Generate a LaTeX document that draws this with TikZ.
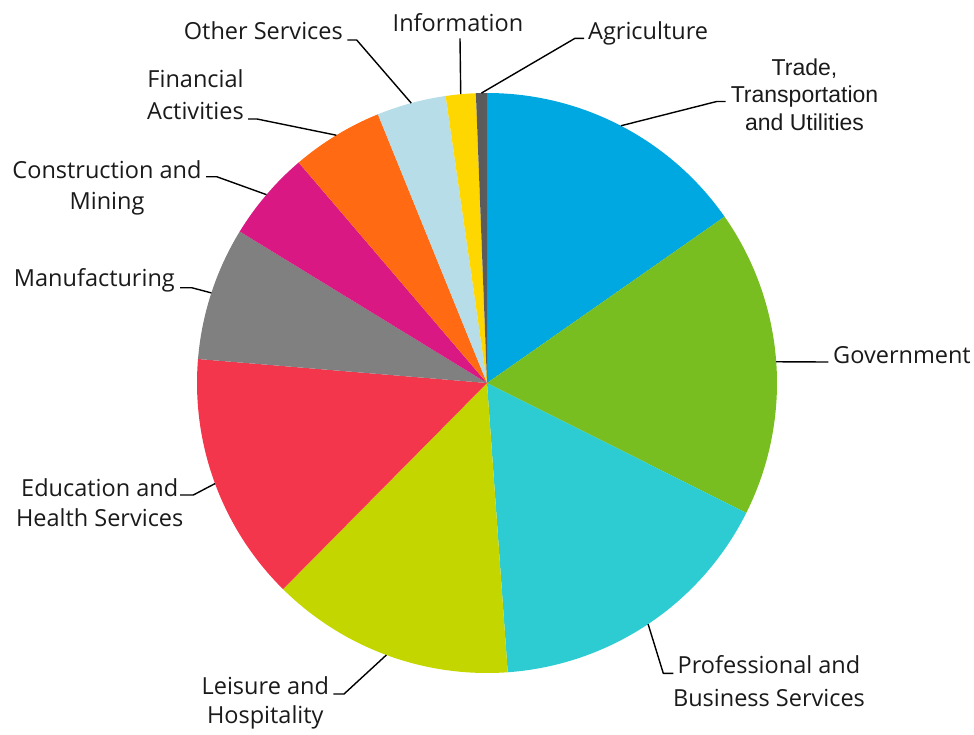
\documentclass[tikz,border=0pt]{standalone}
\usepackage{fontspec}
\setmainfont{Open Sans}
\newfontfamily\arialfont{Liberation Sans}
\definecolor{ctrade}{HTML}{00A8E1}
\definecolor{cgov}{HTML}{78BE20}
\definecolor{cprof}{HTML}{2DCCD3}
\definecolor{cleis}{HTML}{C4D600}
\definecolor{cedu}{HTML}{F4364C}
\definecolor{cman}{HTML}{808080}
\definecolor{ccon}{HTML}{DA1884}
\definecolor{cfin}{HTML}{FF6A13}
\definecolor{coth}{HTML}{B7DDE8}
\definecolor{cinf}{HTML}{FFD700}
\definecolor{cagr}{HTML}{5B5B5B}
\definecolor{txt}{HTML}{1A1A1A}
\begin{document}
\begin{tikzpicture}[x=1pt,y=-1pt,
  lead/.style={draw=black, line width=1.4pt, line join=round},
  lab/.style={font=\fontsize{23.5}{31}\selectfont, text=txt, inner sep=0pt, align=center}]
\useasboundingbox (0,0) rectangle (974,734);
\coordinate (c) at (487,383);
% slices (screen angles, clockwise)
\foreach \a/\b/\col in {-90/-35/ctrade, -35/26.6/cgov, 26.6/85.9/cprof, 85.9/134.7/cleis,
  134.7/184.75/cedu, 184.75/211.5/cman, 211.5/229.5/ccon, 229.5/247.9/cfin,
  247.9/261.8/coth, 261.8/267.8/cinf, 267.8/270/cagr}
  \fill[\col] (c) -- ++(\a:290) arc[start angle=\a, end angle=\b, radius=290] -- cycle;
% leader start points at slice mid-angles
\path (c) ++(-62.5:290) coordinate (tradeP);
\path (c) ++(-4.2:290) coordinate (govP);
\path (c) ++(56.25:290) coordinate (profP);
\path (c) ++(110.3:290) coordinate (leisP);
\path (c) ++(159.7:290) coordinate (eduP);
\path (c) ++(198.1:290) coordinate (manP);
\path (c) ++(220.5:290) coordinate (conP);
\path (c) ++(238.7:290) coordinate (finP);
\path (c) ++(254.85:290) coordinate (othP);
\path (c) ++(264.8:290) coordinate (infP);
\path (c) ++(268.9:290) coordinate (agrP);
% knees and ends
\coordinate (tradeK) at (716.7,101.5); \coordinate (tradeE) at (725.5,101.5);
\coordinate (govE) at (828.3,362);
\coordinate (profK) at (663.3,673.3); \coordinate (profE) at (673.3,673.3);
\coordinate (leisK) at (344,694); \coordinate (leisE) at (333.3,694);
\coordinate (eduK) at (193.3,495); \coordinate (eduE) at (180,495);
\coordinate (manK) at (191.7,287.7); \coordinate (manE) at (180,287.7);
\coordinate (conK) at (216.7,176.7); \coordinate (conE) at (206,176.7);
\coordinate (finK) at (257,119); \coordinate (finE) at (248,119);
\coordinate (othK) at (356.7,40); \coordinate (othE) at (347.3,40);
\coordinate (infE) at (460,38.3);
\coordinate (agrK) at (575,38.3); \coordinate (agrE) at (584,38.3);
% leaders
\draw[lead] (tradeP) -- (tradeK) -- (tradeE);
\draw[lead] (govP) -- (govE);
\draw[lead] (profP) -- (profK) -- (profE);
\draw[lead] (leisP) -- (leisK) -- (leisE);
\draw[lead] (eduP) -- (eduK) -- (eduE);
\draw[lead] (manP) -- (manK) -- (manE);
\draw[lead] (conP) -- (conK) -- (conE);
\draw[lead] (finP) -- (finK) -- (finE);
\draw[lead] (othP) -- (othK) -- (othE);
\draw[lead] (infP) -- (infE);
\draw[lead] (agrP) -- (agrK) -- (agrE);
% labels (base anchor = baseline of the last line)
\node[lab, anchor=base, font=\arialfont\fontsize{23}{27.5}\selectfont] (tradeL) at (804.5,130) {Trade,\\Transportation\\and Utilities};
\node[lab, anchor=base west] (govL) at (833,363) {Government};
\node[lab, anchor=base, font=\fontsize{23.5}{32.7}\selectfont] (profL) at (769,706) {Professional and\\Business Services};
\node[lab, anchor=base, font=\fontsize{23.5}{29.5}\selectfont] (leisL) at (265.3,723.5) {Leisure and\\Hospitality};
\node[lab, anchor=base, font=\fontsize{23.5}{30}\selectfont] (eduL) at (99.7,526.7) {Education and\\Health Services};
\node[lab, anchor=base east] (manL) at (175,286.7) {Manufacturing};
\node[lab, anchor=base] (conL) at (107,209.3) {Construction and\\Mining};
\node[lab, anchor=base, font=\fontsize{23.5}{31.3}\selectfont] (finL) at (195.5,119) {Financial\\Activities};
\node[lab, anchor=base east] (othL) at (343,39.5) {Other Services};
\node[lab, anchor=base] (infL) at (458,31.7) {Information};
\node[lab, anchor=base west] (agrL) at (588,39.5) {Agriculture};
\end{tikzpicture}
\end{document}
